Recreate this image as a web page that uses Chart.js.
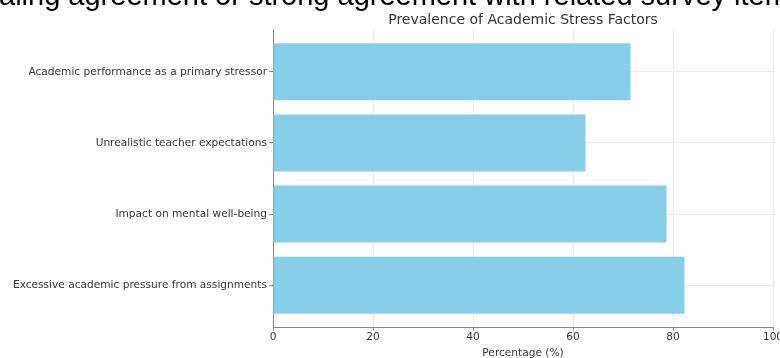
<!DOCTYPE html>
<html>
<head>
<meta charset="utf-8">
<script src="https://cdn.jsdelivr.net/npm/chart.js@4.4.1/dist/chart.umd.min.js"></script>
<style>
    html, body { margin: 0; padding: 0; background: #fff; overflow: hidden; width: 780px; height: 358px; }
    #wrap { position: relative; width: 780px; height: 358px; overflow: hidden; }
    #chart { position: absolute; left: 0; top: 0; }
    #caption {
        position: absolute; top: -19px; left: 0;
        font-family: "Liberation Sans", Arial, sans-serif; font-size: 29px; line-height: 29px;
        color: #000; white-space: nowrap; z-index: 2;
    }
</style>
</head>
<body>
<div id="wrap">
    <div id="caption">Percentage of students signaling agreement or strong agreement with related survey items</div>
    <canvas id="chart" width="800" height="360"></canvas>
</div>
<script>
// Datos (de arriba hacia abajo)
const categories = [
    'Academic performance as a primary stressor',
    'Unrealistic teacher expectations',
    'Impact on mental well-being',
    'Excessive academic pressure from assignments'
];
const percentages = [71.5, 62.5, 78.7, 82.3];
const xTicks = [0, 20, 40, 60, 80, 100];

const chartTitle = 'Prevalence of Academic Stress Factors';
const xTitle = 'Percentage (%)';

document.addEventListener('DOMContentLoaded', function () {
    // Recortar el texto de arriba como en la imagen
    const caption = document.getElementById('caption');
    const mctx = document.createElement('canvas').getContext('2d');
    mctx.font = '29px "Liberation Sans"';
    caption.style.left = (-mctx.measureText('Percentage of students sign').width - 1) + 'px';

    const ctx = document.getElementById('chart').getContext('2d');
    const font = { family: '"DejaVu Sans", sans-serif', size: 10.6, lineHeight: 1 };

    new Chart(ctx, {
        type: 'bar',
        data: {
            datasets: [{
                data: categories.map((c, i) => ({ x: percentages[i], y: i })),
                backgroundColor: '#87CEEB',
                borderWidth: 0,
                barPercentage: 0.8,
                categoryPercentage: 1
            }]
        },
        options: {
            indexAxis: 'y',
            responsive: false,
            animation: false,
            layout: { padding: { left: 0, right: 27, top: 0, bottom: 0 } },
            plugins: {
                legend: { display: false },
                tooltip: { enabled: false },
                title: {
                    display: true,
                    text: chartTitle,
                    fullSize: false,
                    color: '#333',
                    font: { family: '"DejaVu Sans", sans-serif', size: 14, weight: 'normal', lineHeight: 1.2 },
                    padding: { top: 12, bottom: 1 }
                }
            },
            scales: {
                x: {
                    type: 'linear',
                    min: 0,
                    max: 100,
                    afterBuildTicks: scale => { scale.ticks = xTicks.map(v => ({ value: v })); },
                    ticks: { color: '#333', font: font, padding: 1, maxRotation: 0 },
                    grid: { color: '#ebebeb', lineWidth: 1, tickLength: 3.5, tickColor: '#888' },
                    border: { display: true, color: '#888', width: 1 },
                    title: { display: true, text: xTitle, color: '#333', font: { family: '"DejaVu Sans", sans-serif', size: 10.6, lineHeight: 1.2 }, padding: { top: 4, bottom: 0 } }
                },
                y: {
                    type: 'linear',
                    reverse: true,
                    offset: false,
                    min: -0.59,
                    max: categories.length - 1 + 0.59,
                    afterBuildTicks: scale => { scale.ticks = categories.map((c, i) => ({ value: i })); },
                    afterFit: scale => { scale.width = 273; },
                    ticks: {
                        color: '#333',
                        font: font,
                        padding: 2,
                        callback: v => categories[v]
                    },
                    grid: { offset: false, color: '#ebebeb', lineWidth: 1, tickLength: 4, tickColor: '#888' },
                    border: { display: true, color: '#888', width: 1 }
                }
            }
        }
    });
});
</script>
</body>
</html>
